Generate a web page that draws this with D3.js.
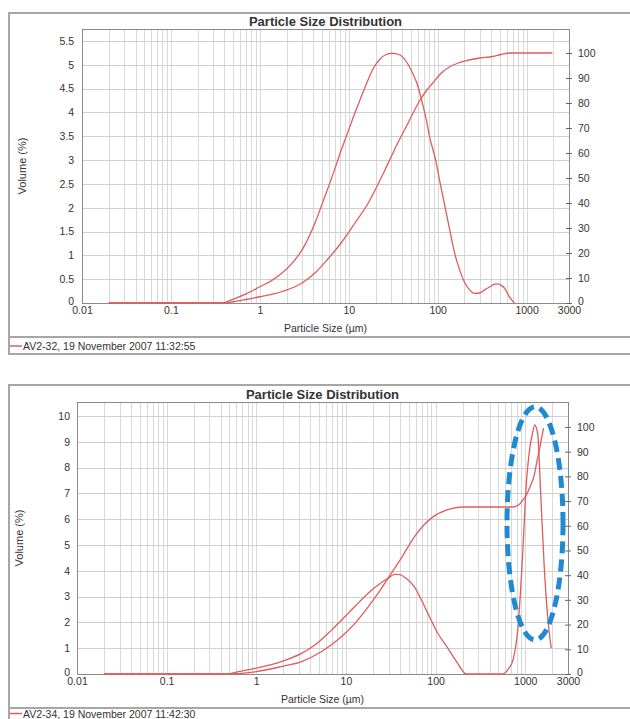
<!DOCTYPE html>
<html><head><meta charset="utf-8">
<script src="https://cdn.jsdelivr.net/npm/d3@7"></script>
<style>
body{margin:0;background:#fff;}
text{font-family:"Liberation Sans",Arial,sans-serif;fill:#333;}
</style>
</head><body>
<svg id="c" width="630" height="719"></svg>
<script>
// ---------- data ----------
const chartTitle = "Particle Size Distribution";
const xTitle = "Particle Size (µm)";
const yTitle = "Volume (%)";
const legendTop = "AV2-32, 19 November 2007 11:32:55";
const legendBottom = "AV2-34, 19 November 2007 11:42:30";

const xTickValues = [0.01, 0.1, 1, 10, 100, 1000, 3000];
const xTickLabels = ["0.01", "0.1", "1", "10", "100", "1000", "3000"];
const topLeftTicks = [0, 0.5, 1, 1.5, 2, 2.5, 3, 3.5, 4, 4.5, 5, 5.5];
const bottomLeftTicks = [0, 1, 2, 3, 4, 5, 6, 7, 8, 9, 10];
const rightTicks = [0, 10, 20, 30, 40, 50, 60, 70, 80, 90, 100];

// [size (µm), volume %]
const topVolume = [[0.02,0],[0.38,0],[0.5,0.08],[0.7,0.19],[1,0.34],[1.35,0.47],[1.75,0.62],[2.47,0.9],[3.17,1.2],[4.17,1.68],[5.3,2.2],[6.7,2.72],[8.2,3.2],[9.4,3.5],[11,3.85],[13.3,4.25],[16,4.62],[18.6,4.9],[22,5.1],[26,5.21],[31,5.24],[36,5.22],[40,5.17],[46,5.02],[52,4.83],[60,4.55],[66,4.26],[75,3.82],[81,3.49],[95,3.0],[105,2.58],[120,2.05],[137,1.53],[155,1.05],[177,0.69],[200,0.44],[230,0.27],[260,0.2],[297,0.21],[340,0.28],[386,0.34],[430,0.39],[470,0.4],[520,0.37],[570,0.3],[640,0.13],[730,0]];
// [size (µm), cumulative %]
const topCumulative = [[0.02,0],[0.38,0],[0.5,0.5],[0.7,1.4],[1,2.5],[1.75,4.5],[2.95,7.9],[4.17,12],[5.8,17.5],[8.2,24],[11.7,31.9],[16.5,39.9],[19.8,45.2],[25,52.5],[30,58.5],[35,63.5],[45,71],[63,81],[75,85],[88,88],[110,92],[137,94.5],[170,96],[213,97],[300,98],[413,98.6],[520,99.4],[640,100],[1950,100]];

const bottomVolume = [[0.02,0],[0.46,0],[0.65,0.1],[0.97,0.22],[1.9,0.48],[3.2,0.8],[4.5,1.12],[6.9,1.7],[10.6,2.35],[14.9,2.88],[21,3.35],[29.4,3.71],[35,3.86],[40,3.85],[47,3.7],[58,3.38],[70,2.85],[86,2.2],[105,1.6],[134,1.05],[170,0.5],[220,0],[560,0],[650,0.2],[730,0.54],[830,1.8],[920,4.15],[1030,7.4],[1130,8.8],[1200,9.3],[1280,9.65],[1340,9.5],[1380,9.3],[1500,6.7],[1630,4.15],[1780,2.2],[1950,1.0]];
const bottomCumulative = [[0.02,0],[0.46,0],[0.97,0.9],[1.9,3],[3.2,5],[5.3,9],[8.9,15.1],[12.6,20.5],[17.7,27.2],[24.9,34.7],[29.4,38.7],[41.6,47],[58,55.5],[75,60.5],[94.5,63.7],[134,66.4],[204,67.6],[300,67.6],[730,67.6],[850,68.5],[940,70.4],[1030,72.5],[1130,75.7],[1250,80],[1360,86.6],[1480,93],[1600,99.5]];

// highlighted region (annotation ellipse) in data units
const highlightSizes = [626, 2640];
const highlightVolume = [1.32, 10.35];

// ---------- drawing ----------
const svg = d3.select("#c");
const RED = "#e05c5c";

function fmt(v){ return String(v); }

function drawPanel(cfg){
  const g = svg.append("g");
  const P = cfg.plot;
  const x = d3.scaleLog().domain([0.01, 3000]).range([P.l, P.r]);
  const yL = d3.scaleLinear().domain([0, cfg.leftMax]).range([P.b, P.t]);
  const yR = d3.scaleLinear().domain([0, cfg.rightMax]).range([P.b, P.t]);

  // outer frame
  g.append("rect").attr("x", cfg.frame.x).attr("y", cfg.frame.y)
    .attr("width", cfg.frame.w).attr("height", cfg.frame.h)
    .attr("fill", "none").attr("stroke", "#a6a6a6").attr("stroke-width", 2);
  g.append("line").attr("x1", cfg.frame.x).attr("x2", cfg.frame.x + cfg.frame.w)
    .attr("y1", cfg.legendY).attr("y2", cfg.legendY)
    .attr("stroke", "#a6a6a6").attr("stroke-width", 2);

  // vertical gridlines
  const minor = [];
  for (let e = -2; e <= 3; e++) for (let m = 1; m <= 9; m++) {
    const v = m * Math.pow(10, e);
    if (v > 0.0100001 && v < 2999) minor.push(v);
  }
  g.append("g").selectAll("line").data(minor).join("line")
    .attr("x1", d => Math.round(x(d)) + 0.5).attr("x2", d => Math.round(x(d)) + 0.5)
    .attr("y1", P.t).attr("y2", P.b)
    .attr("stroke", "#d9d9d9").attr("stroke-width", 1);
  // horizontal gridlines
  g.append("g").selectAll("line").data(cfg.leftTicks.filter(d => d > 0)).join("line")
    .attr("x1", P.l).attr("x2", P.r)
    .attr("y1", d => Math.round(yL(d)) + 0.5).attr("y2", d => Math.round(yL(d)) + 0.5)
    .attr("stroke", "#cfcfcf").attr("stroke-width", 1);

  // plot border
  g.append("rect").attr("x", P.l + 0.5).attr("y", P.t + 0.5)
    .attr("width", P.r - P.l).attr("height", P.b - P.t)
    .attr("fill", "none").attr("stroke", "#8a8a8a").attr("stroke-width", 1);

  // axes
  const ax = g.append("g").attr("transform", `translate(0,${P.b})`)
    .call(d3.axisBottom(x).tickValues(xTickValues).tickFormat((d, i) => xTickLabels[i]).tickSize(0).tickPadding(4));
  ax.select(".domain").remove();
  const ayl = g.append("g").attr("transform", `translate(${P.l},0)`)
    .call(d3.axisLeft(yL).tickValues(cfg.leftTicks).tickFormat(fmt).tickSize(0).tickPadding(cfg.leftPad));
  ayl.select(".domain").remove();
  const ayr = g.append("g").attr("transform", `translate(${P.r},0)`)
    .call(d3.axisRight(yR).tickValues(rightTicks).tickFormat(fmt).tickSize(3).tickPadding(6));
  ayr.select(".domain").remove();
  ayr.selectAll("line").attr("x1", -3).attr("stroke", "#666");
  [ax, ayl, ayr].forEach(a => a.selectAll("text")
    .style("font-family", '"Liberation Sans",Arial,sans-serif').style("font-size", "10.5px").attr("fill", "#333"));
  ayl.selectAll(".tick").filter(d => d === 0).select("text").attr("dy", "0.1em");
  ayr.selectAll(".tick").filter(d => d === 0).select("text").attr("dy", "0.1em");

  // title & axis labels
  g.append("text").attr("x", (P.l + P.r) / 2).attr("y", P.t - 3).attr("text-anchor", "middle")
    .style("font-size", "13px").style("font-weight", "bold").attr("fill", "#111").text(chartTitle);
  g.append("text").attr("x", (P.l + P.r) / 2).attr("y", P.b + 29).attr("text-anchor", "middle")
    .style("font-size", "10.5px").text(xTitle);
  g.append("text").attr("transform", `translate(${cfg.yTitleX},${(P.t + P.b) / 2}) rotate(-90)`)
    .attr("text-anchor", "middle").style("font-size", "11px").text(yTitle);

  // curves
  const lineL = d3.line().x(d => x(d[0])).y(d => yL(d[1])).curve(d3.curveMonotoneX);
  const lineR = d3.line().x(d => x(d[0])).y(d => yR(d[1])).curve(d3.curveMonotoneX);
  g.append("path").attr("d", lineR(cfg.cum)).attr("fill", "none").attr("stroke", RED).attr("stroke-width", 1.3);
  g.append("path").attr("d", lineL(cfg.vol)).attr("fill", "none").attr("stroke", RED).attr("stroke-width", 1.3);

  // legend
  g.append("line").attr("x1", 10).attr("x2", 22).attr("y1", cfg.legendTextY - 4).attr("y2", cfg.legendTextY - 4)
    .attr("stroke", RED).attr("stroke-width", 1.5);
  g.append("text").attr("x", 23).attr("y", cfg.legendTextY).style("font-size", "10.5px").text(cfg.legend);

  return {x, yL};
}

drawPanel({
  frame: {x: 9, y: 13, w: 640, h: 341}, legendY: 337, legendTextY: 350,
  plot: {l: 82, r: 569, t: 29, b: 303},
  leftMax: 5.75, rightMax: 109.6, leftTicks: topLeftTicks, leftPad: 8, yTitleX: 26,
  vol: topVolume, cum: topCumulative, legend: legendTop
});
const bot = drawPanel({
  frame: {x: 9, y: 385, w: 640, h: 360}, legendY: 708, legendTextY: 717.5,
  plot: {l: 77, r: 568, t: 402, b: 674},
  leftMax: 10.54, rightMax: 110.1, leftTicks: bottomLeftTicks, leftPad: 7, yTitleX: 23,
  vol: bottomVolume, cum: bottomCumulative, legend: legendBottom
});

// annotation ellipse
const ex0 = bot.x(highlightSizes[0]), ex1 = bot.x(highlightSizes[1]);
const ey0 = bot.yL(highlightVolume[1]), ey1 = bot.yL(highlightVolume[0]);
svg.append("ellipse").attr("cx", (ex0 + ex1) / 2).attr("cy", (ey0 + ey1) / 2)
  .attr("rx", (ex1 - ex0) / 2).attr("ry", (ey1 - ey0) / 2)
  .attr("fill", "none").attr("stroke", "#1f8ad2").attr("stroke-width", 5)
  .attr("stroke-dasharray", "12,6");
</script>
</body></html>
